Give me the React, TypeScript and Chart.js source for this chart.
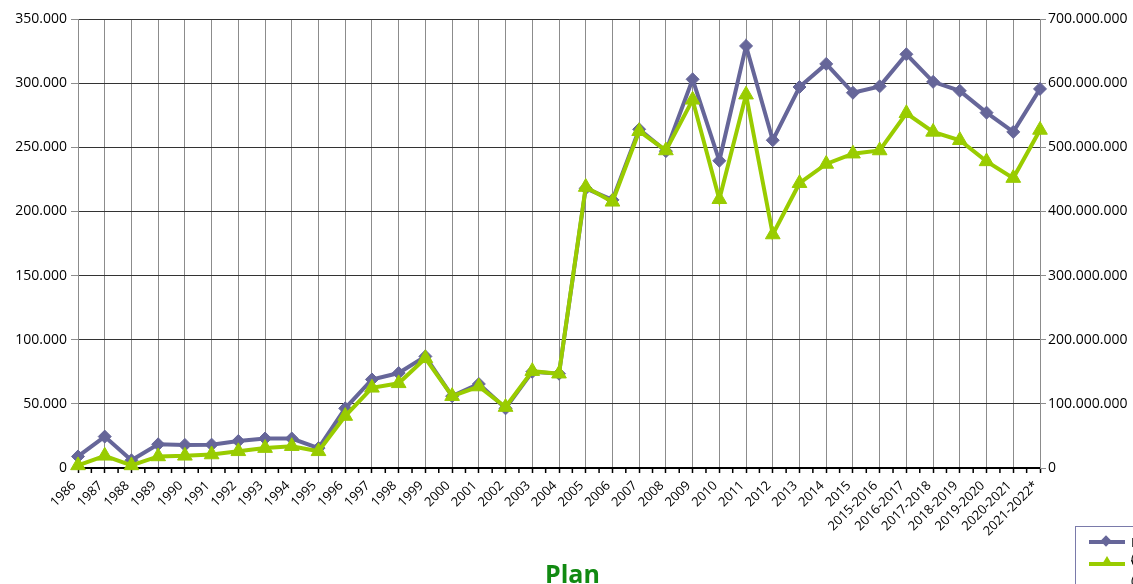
import React, { useEffect, useRef } from 'react';
import { Chart, registerables } from 'chart.js';

Chart.register(...registerables);

const categories: string[] = [
  '1986', '1987', '1988', '1989', '1990', '1991', '1992', '1993', '1994', '1995',
  '1996', '1997', '1998', '1999', '2000', '2001', '2002', '2003', '2004', '2005',
  '2006', '2007', '2008', '2009', '2010', '2011', '2012', '2013', '2014', '2015',
  '2015-2016', '2016-2017', '2017-2018', '2018-2019', '2019-2020', '2020-2021', '2021-2022*',
];

// left axis series (purple, diamonds)
const purpleSeries: number[] = [
  9000, 24500, 6000, 18500, 18000, 18200, 21000, 23000, 23000, 15500,
  46500, 69000, 74000, 87000, 56000, 65500, 46500, 75000, 73500, 218000,
  209000, 264000, 247000, 303000, 239500, 329000, 255500, 297000, 315000, 292500,
  297500, 322500, 301000, 294000, 277000, 262000, 295500,
];

// right axis series (green, triangles)
const greenSeries: number[] = [
  4000000, 19000000, 4000000, 18000000, 19000000, 21000000, 26000000, 31000000, 34000000, 26000000,
  81000000, 125000000, 132000000, 171000000, 112000000, 127000000, 95000000, 151000000, 147000000, 438000000,
  415000000, 525000000, 495000000, 574000000, 419000000, 582000000, 364000000, 444000000, 474000000, 490000000,
  495000000, 553000000, 524000000, 511000000, 478000000, 452000000, 527000000,
];

const legendLabels: string[] = ['Importaciones (t)', 'Valor (€)'];
const titleText = 'Plan';

const PURPLE = '#666699';
const GREEN = '#99cc00';
const FONT = "'Open Sans', 'Noto Sans', sans-serif";

function fmt(v: number): string {
  return Math.round(v).toString().replace(/\B(?=(\d{3})+(?!\d))/g, '.');
}

const minorTicks = {
  id: 'minorTicks',
  afterDraw(chart: any) {
    const x = chart.scales.x;
    const bottom = chart.chartArea.bottom;
    const ctx = chart.ctx;
    ctx.save();
    ctx.strokeStyle = '#000';
    ctx.lineWidth = 1.5;
    for (let i = 0; i < categories.length - 1; i++) {
      const px = (x.getPixelForValue(i) + x.getPixelForValue(i + 1)) / 2;
      ctx.beginPath();
      ctx.moveTo(px, bottom);
      ctx.lineTo(px, bottom + 5);
      ctx.stroke();
    }
    ctx.restore();
  },
};

export default function App() {
  const ref = useRef<HTMLCanvasElement | null>(null);

  useEffect(() => {
    if (!ref.current) return;
    const chart = new Chart(ref.current, {
      type: 'line',
      data: {
        labels: categories,
        datasets: [
          {
            label: legendLabels[0],
            data: purpleSeries,
            yAxisID: 'y',
            borderColor: PURPLE,
            backgroundColor: PURPLE,
            borderWidth: 4,
            pointStyle: 'rectRot',
            pointRadius: 6.5,
            pointBorderWidth: 1,
            tension: 0,
            clip: false as any,
            order: 1,
          },
          {
            label: legendLabels[1],
            data: greenSeries,
            yAxisID: 'y1',
            borderColor: GREEN,
            backgroundColor: GREEN,
            borderWidth: 4,
            pointStyle: 'triangle',
            pointRadius: 8.5,
            pointBorderWidth: 1,
            tension: 0,
            clip: false as any,
            order: 0,
          },
        ],
      },
      options: {
        responsive: false,
        animation: false,
        layout: { padding: { top: 19, left: 0, right: 0, bottom: 0 } },
        plugins: {
          legend: { display: false },
          title: { display: false },
          tooltip: { enabled: false },
        },
        scales: {
          x: {
            type: 'category',
            offset: false,
            afterFit: (s: any) => { s.height = 116; },
            grid: {
              color: '#8c8c8c',
              lineWidth: 1,
              drawTicks: true,
              tickLength: 5,
              tickColor: '#000',
              tickWidth: 1.5,
            },
            border: { color: '#000', width: 2 },
            ticks: {
              autoSkip: false,
              maxRotation: 45,
              minRotation: 45,
              padding: 5,
              labelOffset: -4,
              color: '#000',
              font: { family: FONT, size: 13 },
            },
          },
          y: {
            position: 'left',
            min: 0,
            max: 350000,
            afterFit: (s: any) => { s.width = 78; },
            grid: { color: '#333333', lineWidth: 1, tickLength: 7, tickColor: '#8c8c8c' },
            border: { color: '#8c8c8c', width: 1 },
            ticks: {
              stepSize: 50000,
              padding: 4,
              color: '#000',
              font: { family: FONT, size: 14 },
              callback: (v: any) => fmt(Number(v)),
            },
          },
          y1: {
            position: 'right',
            min: 0,
            max: 700000000,
            afterFit: (s: any) => { s.width = 93; },
            grid: { drawOnChartArea: false, tickLength: 6, tickColor: '#8c8c8c' },
            border: { color: '#8c8c8c', width: 1 },
            ticks: {
              stepSize: 100000000,
              padding: 2,
              color: '#000',
              font: { family: FONT, size: 14 },
              callback: (v: any) => fmt(Number(v)),
            },
          },
        },
      },
      plugins: [minorTicks],
    });
    return () => chart.destroy();
  }, []);

  const sample = (color: string, marker: 'diamond' | 'triangle') => (
    <div style={{ position: 'relative', width: 36, height: 4, background: color, marginTop: 6, flex: 'none' }}>
      {marker === 'diamond' ? (
        <div style={{ position: 'absolute', left: 13, top: -3, width: 8, height: 8, background: color, transform: 'rotate(45deg)' }} />
      ) : (
        <div style={{ position: 'absolute', left: 12, top: -6, width: 0, height: 0, borderLeft: '6px solid transparent', borderRight: '6px solid transparent', borderBottom: `10px solid ${color}` }} />
      )}
    </div>
  );

  return (
    <div style={{ position: 'fixed', left: 0, top: 0, width: 1133, height: 584, overflow: 'hidden', background: '#fff', fontFamily: FONT }}>
      <canvas ref={ref} width={1133} height={584} style={{ position: 'absolute', left: 0, top: 0, width: 1133, height: 584 }} />
      <div style={{ position: 'absolute', left: 1075, top: 526, width: 200, height: 80, border: '1px solid #7a7aaa', boxSizing: 'border-box', padding: '7px 0 0 13px', fontSize: 13, color: '#000' }}>
        <div style={{ display: 'flex', alignItems: 'flex-start', gap: 6, height: 22 }}>
          {sample(PURPLE, 'diamond')}
          <span style={{ lineHeight: '16px', width: 60 }}>{legendLabels[0]}</span>
        </div>
        <div style={{ display: 'flex', alignItems: 'flex-start', gap: 6 }}>
          {sample(GREEN, 'triangle')}
          <span style={{ lineHeight: '16px', width: 40 }}>{legendLabels[1]}</span>
        </div>
      </div>
      <div style={{ position: 'absolute', left: 545, top: 561, lineHeight: '24px', fontSize: 25, fontWeight: 700, color: '#118a11' }}>
        {titleText}
      </div>
    </div>
  );
}
